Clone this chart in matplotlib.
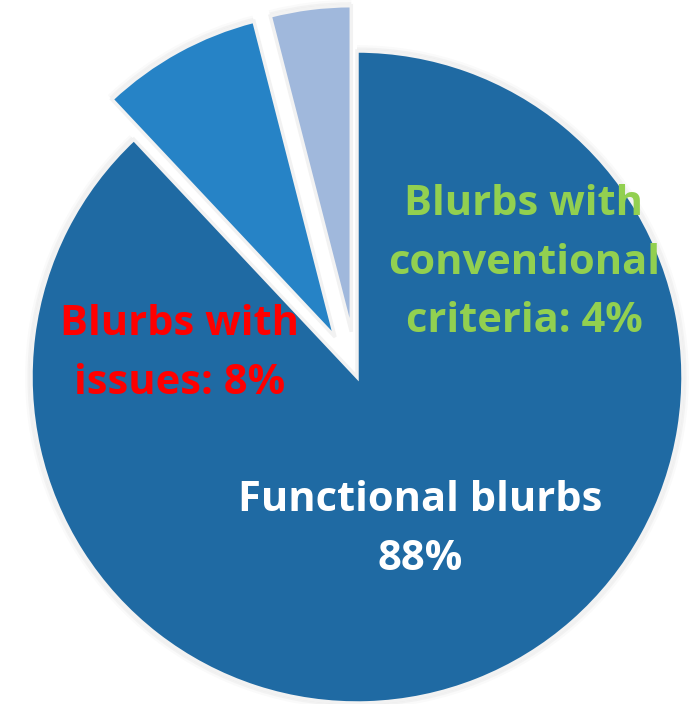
import matplotlib.pyplot as plt

# slice data, clockwise from 12 o'clock
labels = ["Functional blurbs\n88%", "Blurbs with\nissues: 8%", "Blurbs with\nconventional\ncriteria: 4%"]
shares = [88, 8, 4]
explode = [0.0, 0.14, 0.14]
colors = ["#1F6AA3", "#2683C6", "#A0B8DC"]
label_colors = ["white", "#FF0000", "#92D050"]
# label centres in figure pixels (x, y from top)
label_pos = [(420, 530), (180, 354), (524, 263)]

W, H = 697, 704
CX, CY, R = 357, 377, 326   # pie centre and radius in pixels

fig = plt.figure(figsize=(W / 100, H / 100), dpi=100)
ax = fig.add_axes([0, 0, 1, 1])

# soft grey halo behind the slices
for k, a in [(1.018, 0.04), (1.011, 0.06), (1.005, 0.08)]:
    ax.pie(shares, explode=explode, startangle=90, counterclock=False,
           radius=k, colors=["#808080"] * 3,
           wedgeprops=dict(alpha=a, linewidth=0))

ax.pie(shares, explode=explode, startangle=90, counterclock=False,
       colors=colors, wedgeprops=dict(edgecolor="#F2F2F2", linewidth=2.5))

ax.set_xlim(-CX / R, (W - CX) / R)
ax.set_ylim(-(H - CY) / R, CY / R)
ax.set_aspect("auto")
ax.axis("off")

for text, col, (px, py) in zip(labels, label_colors, label_pos):
    fig.text(px / W, 1 - py / H, text, color=col, fontsize=30,
             fontweight="bold", family="Open Sans", ha="center", va="center",
             linespacing=1.55)

fig.savefig("out.png", dpi=100)
